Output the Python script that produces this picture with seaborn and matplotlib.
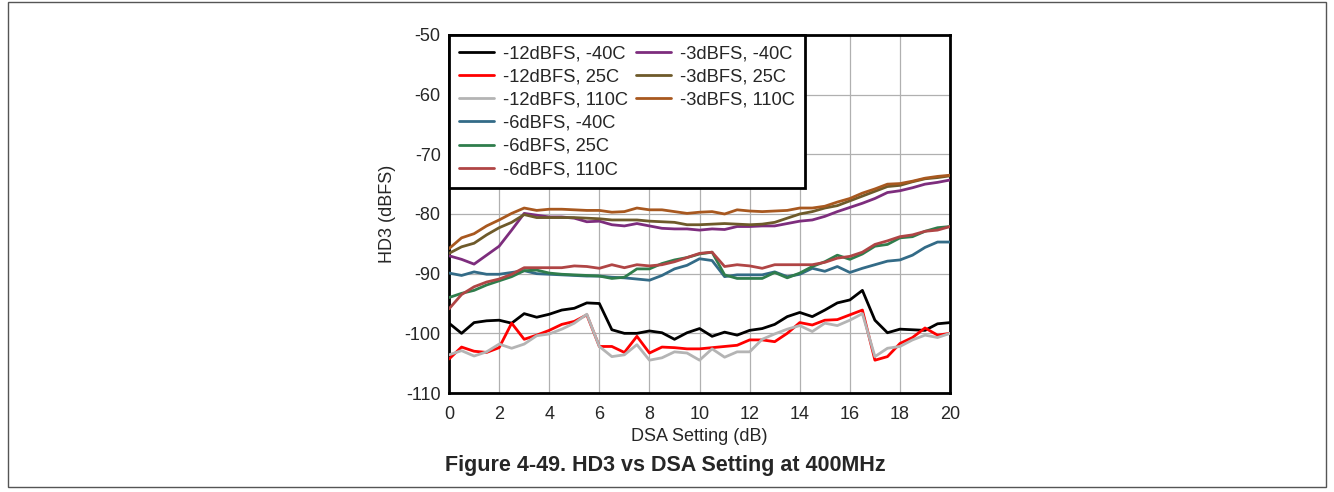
import numpy as np
import pandas as pd
import matplotlib
matplotlib.use("Agg")
import matplotlib.pyplot as plt
from matplotlib.lines import Line2D
from matplotlib.patches import Rectangle
import seaborn as sns

# Dati (HD3 in dBFS, passo 0.5 dB)
dsa = np.arange(0, 20.5, 0.5)

m12_n40 = [-98.3, -100.0, -98.2, -97.9, -97.8, -98.3, -96.7, -97.3, -96.8, -96.1,
           -95.8, -94.9, -95.0, -99.4, -100.0, -100.0, -99.6, -99.9, -101.0, -99.9,
           -99.2, -100.5, -99.8, -100.3, -99.5, -99.2, -98.5, -97.2, -96.5, -97.2,
           -96.1, -94.9, -94.4, -92.8, -97.8, -99.9, -99.3, -99.4, -99.5, -98.4, -98.2]
m12_25 = [-104.3, -102.3, -103.0, -103.2, -102.4, -98.3, -101.0, -100.3, -99.5, -98.5,
          -98.0, -96.9, -102.2, -102.2, -103.2, -100.5, -103.3, -102.3, -102.4, -102.6,
          -102.6, -102.4, -102.2, -102.0, -101.1, -101.1, -101.4, -100.0, -98.2, -98.6,
          -97.8, -97.7, -96.9, -96.1, -104.5, -103.9, -101.7, -100.7, -99.1, -100.3, -100.0]
m12_110 = [-103.6, -102.9, -103.8, -103.1, -101.8, -102.5, -101.8, -100.4, -100.1, -99.3,
           -98.3, -96.8, -102.2, -103.9, -103.6, -101.9, -104.5, -104.1, -103.1, -103.3,
           -104.5, -102.6, -104.0, -103.1, -103.1, -101.0, -100.1, -99.3, -98.7, -99.7,
           -98.3, -98.7, -97.8, -96.7, -103.9, -102.5, -102.2, -101.1, -100.3, -100.7, -100.0]
m6_n40 = [-89.9, -90.3, -89.7, -90.1, -90.1, -89.8, -89.5, -90.0, -90.1, -90.2,
          -90.3, -90.4, -90.4, -90.6, -90.7, -90.9, -91.1, -90.3, -89.2, -88.6,
          -87.5, -87.8, -90.5, -90.2, -90.2, -90.2, -89.7, -90.5, -90.1, -89.1,
          -89.6, -88.8, -89.8, -89.1, -88.5, -87.9, -87.7, -86.9, -85.6, -84.7, -84.7]
m6_25 = [-94.0, -93.3, -92.8, -91.9, -91.2, -90.5, -89.5, -89.4, -89.9, -90.1,
         -90.2, -90.3, -90.4, -90.8, -90.6, -89.2, -89.2, -88.3, -87.7, -87.3,
         -86.7, -86.4, -90.2, -90.8, -90.8, -90.8, -89.8, -90.7, -89.9, -88.8,
         -88.0, -86.9, -87.6, -86.7, -85.4, -85.1, -84.0, -83.8, -82.9, -82.3, -82.1]
m6_110 = [-95.9, -93.5, -92.2, -91.4, -90.9, -90.1, -89.0, -89.0, -89.0, -89.0,
          -88.7, -88.8, -89.1, -88.5, -89.0, -88.5, -88.7, -88.5, -88.0, -87.3,
          -86.6, -86.4, -88.8, -88.5, -88.7, -89.1, -88.5, -88.5, -88.5, -88.5,
          -88.1, -87.4, -87.1, -86.4, -85.1, -84.5, -83.8, -83.5, -82.9, -82.7, -82.1]
m3_n40 = [-87.0, -87.6, -88.4, -86.9, -85.4, -82.7, -79.9, -80.2, -80.5, -80.5,
          -80.7, -81.3, -81.2, -81.8, -82.0, -81.6, -82.0, -82.4, -82.5, -82.5,
          -82.7, -82.5, -82.6, -82.1, -82.1, -82.0, -82.0, -81.6, -81.2, -81.0,
          -80.4, -79.6, -78.9, -78.2, -77.4, -76.4, -76.1, -75.6, -75.0, -74.7, -74.3]
m3_25 = [-86.6, -85.5, -84.9, -83.5, -82.3, -81.4, -80.1, -80.6, -80.6, -80.6,
         -80.6, -80.7, -80.8, -81.0, -81.0, -81.0, -81.2, -81.3, -81.4, -81.8,
         -81.8, -81.7, -81.6, -81.7, -81.8, -81.7, -81.4, -80.7, -80.0, -79.6,
         -79.0, -78.6, -77.8, -77.0, -76.2, -75.4, -75.2, -74.6, -74.1, -73.9, -73.6]
m3_110 = [-85.8, -84.0, -83.3, -82.0, -81.0, -79.9, -79.0, -79.4, -79.2, -79.2,
          -79.3, -79.4, -79.4, -79.7, -79.6, -79.0, -79.3, -79.3, -79.6, -79.9,
          -79.7, -79.6, -80.0, -79.3, -79.5, -79.6, -79.5, -79.4, -79.0, -79.0,
          -78.7, -78.0, -77.4, -76.5, -75.8, -75.0, -74.9, -74.5, -74.0, -73.7, -73.5]

labels = ["-12dBFS, -40C", "-12dBFS, 25C", "-12dBFS, 110C",
          "-6dBFS, -40C", "-6dBFS, 25C", "-6dBFS, 110C",
          "-3dBFS, -40C", "-3dBFS, 25C", "-3dBFS, 110C"]
series = [m12_n40, m12_25, m12_110, m6_n40, m6_25, m6_110, m3_n40, m3_25, m3_110]
colors = ["#000000", "#ff0000", "#b4b4b4",
          "#336b87", "#2f7d4c", "#b04545",
          "#7d2d7d", "#6e5a2a", "#a8581f"]

df = pd.concat([pd.DataFrame({"DSA": dsa, "HD3": s, "Serie": lab})
                for lab, s in zip(labels, series)], ignore_index=True)

sns.set_style("white")
plt.rcParams["font.family"] = ["Liberation Sans", "DejaVu Sans"]
plt.rcParams["axes.unicode_minus"] = False

fig = plt.figure(figsize=(13.34, 4.92), dpi=100)
ax = fig.add_axes([0.3366, 0.2012, 0.3756, 0.7277])

sns.lineplot(data=df, x="DSA", y="HD3", hue="Serie", hue_order=labels,
             palette=dict(zip(labels, colors)), linewidth=2, ax=ax,
             estimator=None, legend=False, zorder=3)

ax.set_xlim(0, 20)
ax.set_ylim(-110, -50)
ax.set_xticks(range(0, 21, 2))
ax.set_yticks(range(-110, -49, 10))
ax.grid(True, color="#b0b0b0", linewidth=0.9, zorder=0)
ax.set_axisbelow(True)
for sp in ax.spines.values():
    sp.set_linewidth(2)
    sp.set_color("black")
ax.tick_params(labelsize=13, length=0)
ax.tick_params(axis="x", pad=9)
ax.tick_params(axis="y", pad=6)
ax.set_xlabel("DSA Setting (dB)", fontsize=13, labelpad=4)
ax.set_ylabel("HD3 (dBFS)", fontsize=13, labelpad=6)

# Legenda a due colonne (6 + 3), con voci vuote per riempire
handles = [Line2D([], [], color=c, linewidth=2) for c in colors]
blank = Line2D([], [], color="none")
leg_handles = handles[:6] + handles[6:] + [blank] * 3
leg_labels = labels[:6] + labels[6:] + [""] * 3
leg = ax.legend(leg_handles, leg_labels, ncol=2, loc="upper left",
                bbox_to_anchor=(0, 1), borderaxespad=0, fontsize=13.2,
                frameon=True, fancybox=False, handlelength=1.9,
                handletextpad=0.5, columnspacing=0.45, labelspacing=0.34,
                borderpad=0.55)
leg.get_frame().set_edgecolor("black")
leg.get_frame().set_linewidth(2)
leg.get_frame().set_alpha(1)
leg.set_zorder(5)

fig.text(0.4985, 0.053, "Figure 4-49. HD3 vs DSA Setting at 400MHz",
         ha="center", va="center", fontsize=15.5, fontweight="bold")

fig.patches.append(Rectangle((0.006, 0.01), 0.988, 0.985, transform=fig.transFigure,
                             fill=False, edgecolor="#555555", linewidth=1))

fig.savefig("out.png", dpi=100)
